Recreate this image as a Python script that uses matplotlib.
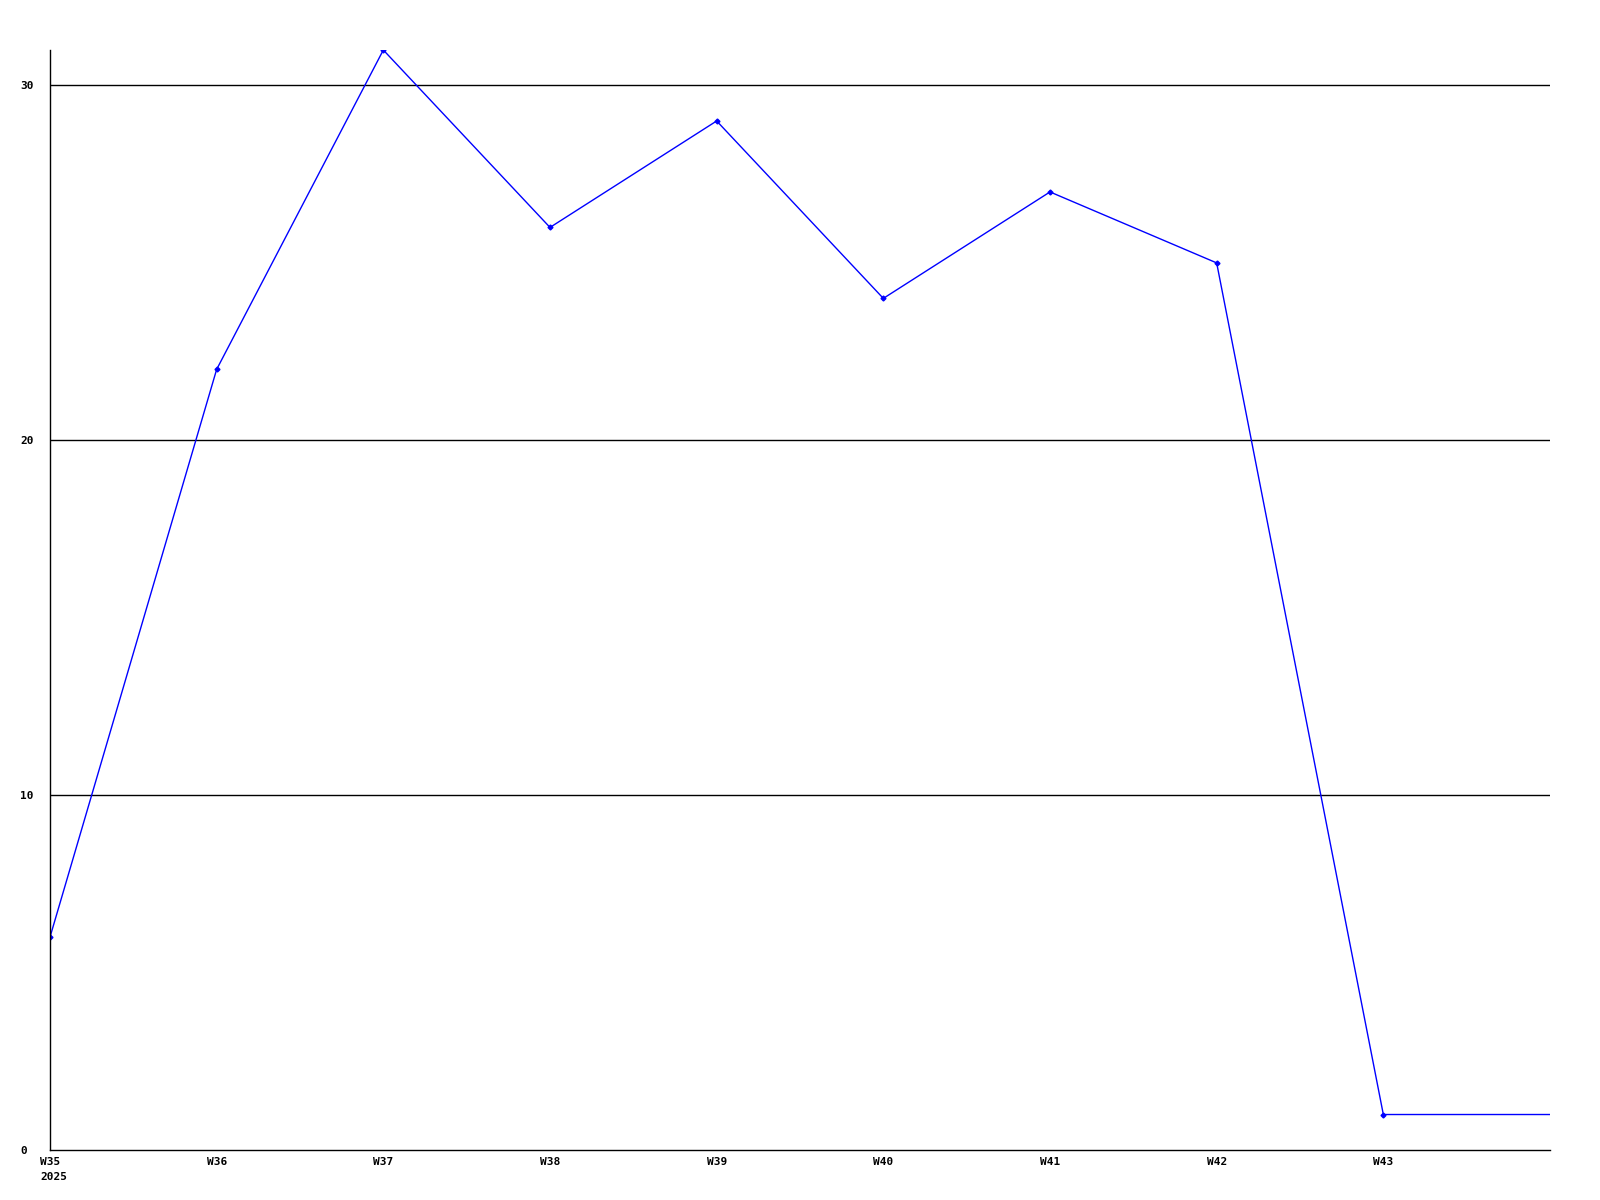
import matplotlib
matplotlib.use("Agg")
import matplotlib.pyplot as plt

weeks = ["W35", "W36", "W37", "W38", "W39", "W40", "W41", "W42", "W43"]
values = [6, 22, 31, 26, 29, 24, 27, 25, 1]
tail_value = 1
year_label = "2025"
yticks = [0, 10, 20, 30]

fig = plt.figure(figsize=(16, 12), dpi=100)
ax = fig.add_axes([50/1600, 50/1200, 1500/1600, 1100/1200])

xs = list(range(len(weeks)))
ax.plot(xs + [len(weeks)], values + [tail_value], color="#0000ff", lw=1.0)
ax.plot(xs, values, ls="none", marker="D", ms=2.5, color="#0000ff")

ax.set_xlim(0, len(weeks))
ax.set_ylim(0, 31)
for y in yticks[1:]:
    ax.axhline(y, color="black", lw=1.0, zorder=0)

font = dict(family="DejaVu Sans Mono", fontweight="bold", fontsize=8)
ax.set_xticks(xs)
ax.set_xticklabels(weeks, va="top", **font)
ax.annotate(year_label, xy=(0, 0), xycoords=("data", "axes fraction"),
            xytext=(-7.2, -15.8), textcoords="offset points",
            ha="left", va="top", annotation_clip=False, **font)
ax.set_yticks(yticks)
ax.set_yticklabels([str(v) for v in yticks], ha="left", **font)
ax.tick_params(length=0)
ax.tick_params(axis="x", pad=5)
ax.tick_params(axis="y", pad=21.6)
for s in ["top", "right"]:
    ax.spines[s].set_visible(False)
for s in ["left", "bottom"]:
    ax.spines[s].set_linewidth(1.0)

fig.savefig("out.png", dpi=100, facecolor="white")
